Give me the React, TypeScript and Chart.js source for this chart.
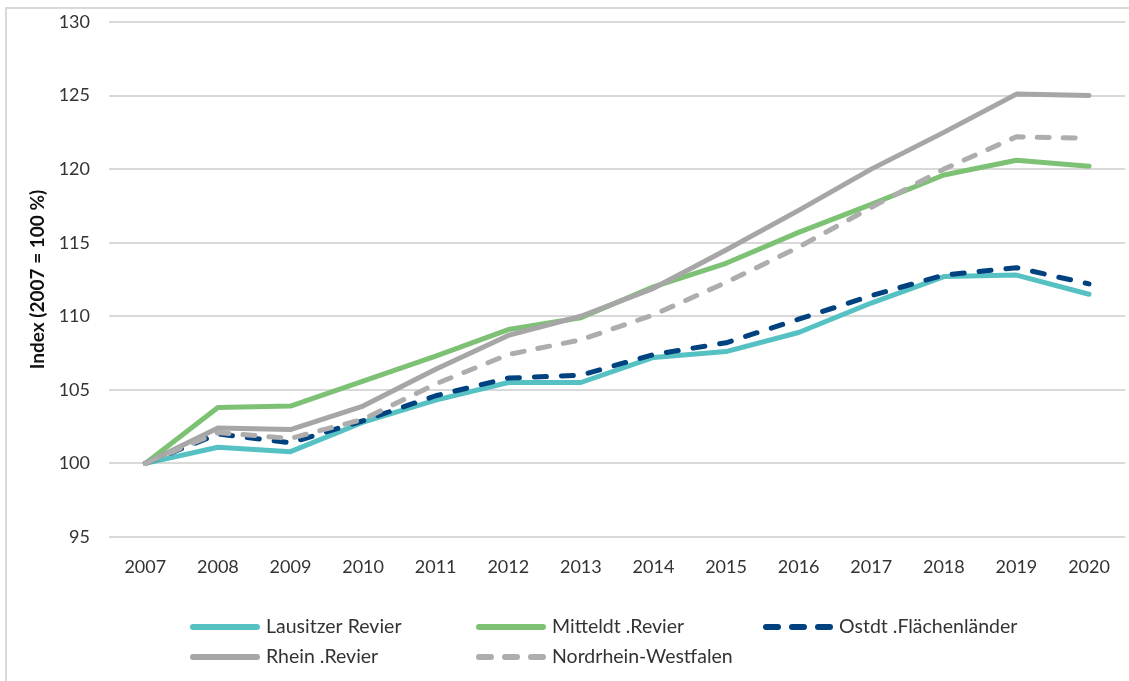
import React, { useEffect, useRef } from "react";
import { Chart, registerables } from "chart.js";

Chart.register(...registerables);

const years = ["2007", "2008", "2009", "2010", "2011", "2012", "2013", "2014", "2015", "2016", "2017", "2018", "2019", "2020"];
const lausitzer = [100, 101.1, 100.8, 102.8, 104.3, 105.5, 105.5, 107.2, 107.6, 108.9, 110.9, 112.7, 112.8, 111.5];
const mitteldt = [100, 103.8, 103.9, 105.6, 107.3, 109.1, 109.9, 112.0, 113.6, 115.7, 117.6, 119.6, 120.6, 120.2];
const ostdt = [100, 102.0, 101.4, 102.9, 104.6, 105.8, 106.0, 107.4, 108.2, 109.8, 111.4, 112.8, 113.3, 112.2];
const rhein = [100, 102.4, 102.3, 103.9, 106.4, 108.7, 110.0, 111.9, 114.5, 117.2, 120.0, 122.5, 125.1, 125.0];
const nrw = [100, 102.1, 101.7, 103.0, 105.4, 107.4, 108.4, 110.1, 112.3, 114.7, 117.4, 120.0, 122.2, 122.1];
const seriesNames = ["Lausitzer Revier", "Mitteldt .Revier", "Ostdt .Flächenländer", "Rhein .Revier", "Nordrhein-Westfalen"];
const yTitle = "Index (2007 = 100 %)";

const FONT = "Lato, 'Noto Sans', sans-serif";
const TEXT = "#333333";

const legendSlots = [
  { col: 190, row: 627 },
  { col: 476, row: 627 },
  { col: 763, row: 627 },
  { col: 190, row: 657 },
  { col: 476, row: 657 },
];

const customLegend = {
  id: "customLegend",
  afterDraw(chart: any) {
    const ctx = chart.ctx;
    ctx.save();
    chart.data.datasets.forEach((ds: any, i: number) => {
      const slot = legendSlots[i];
      if (!slot) return;
      ctx.beginPath();
      ctx.strokeStyle = ds.borderColor;
      ctx.lineWidth = 6;
      ctx.lineCap = "round";
      ctx.setLineDash(ds.borderDash && ds.borderDash.length ? [12, 14] : []);
      ctx.moveTo(slot.col + 3, slot.row);
      ctx.lineTo(slot.col + 67, slot.row);
      ctx.stroke();
      ctx.setLineDash([]);
      ctx.fillStyle = TEXT;
      ctx.font = `19.5px ${FONT}`;
      ctx.textBaseline = "middle";
      ctx.textAlign = "left";
      ctx.fillText(ds.label, slot.col + 76, slot.row);
    });
    ctx.restore();
  },
};

export default function App() {
  const ref = useRef<HTMLCanvasElement | null>(null);
  useEffect(() => {
    if (!ref.current) return;
    const mk = (label: string, data: number[], color: string, dash: number[], order: number) => ({
      label,
      data,
      borderColor: color,
      backgroundColor: color,
      borderWidth: 5,
      borderDash: dash,
      borderCapStyle: "round",
      borderJoinStyle: "round",
      pointRadius: 0,
      tension: 0,
      fill: false,
      order,
    });
    const chart = new Chart(ref.current, {
      type: "line",
      data: {
        labels: years,
        datasets: [
          mk(seriesNames[0], lausitzer, "#55C1C3", [], 5),
          mk(seriesNames[1], mitteldt, "#7DC274", [], 4),
          mk(seriesNames[2], ostdt, "#00427F", [12, 15], 3),
          mk(seriesNames[3], rhein, "#A6A6A6", [], 2),
          mk(seriesNames[4], nrw, "#ADADAD", [12, 14], 1),
        ] as any,
      },
      options: {
        responsive: false,
        animation: false,
        layout: { padding: { left: 0, top: 22, right: 3, bottom: 94 } },
        plugins: {
          legend: { display: false },
          tooltip: { enabled: false },
        },
        scales: {
          x: {
            offset: true,
            grid: { display: false, drawTicks: false },
            border: { display: false },
            ticks: { color: TEXT, font: { family: FONT, size: 18 }, padding: 19, maxRotation: 0 },
            afterFit: (s: any) => { s.height = 50; },
          },
          y: {
            min: 95,
            max: 130,
            ticks: { stepSize: 5, color: TEXT, font: { family: FONT, size: 18 }, padding: 19 },
            grid: { color: "#D9D9D9", lineWidth: 2, drawTicks: false },
            border: { display: false },
            title: {
              display: true,
              text: yTitle,
              color: "#111111",
              font: { family: FONT, size: 19, weight: "bold" },
              padding: { top: 26, bottom: 0 },
            },
            afterFit: (s: any) => { s.width = 109; s.paddingTop = 0; s.paddingBottom = 0; },
          },
        },
      },
      plugins: [customLegend],
    });
    return () => chart.destroy();
  }, []);

  return (
    <div style={{ position: "fixed", left: 0, top: 0, width: 1129, height: 681, overflow: "hidden", background: "#fff" }}>
      <div style={{ position: "absolute", left: 5, top: 7, width: 1200, height: 800, border: "2px solid #D9D9D9" }} />
      <canvas ref={ref} width={1129} height={681} style={{ position: "absolute", left: 0, top: 0 }} />
    </div>
  );
}
